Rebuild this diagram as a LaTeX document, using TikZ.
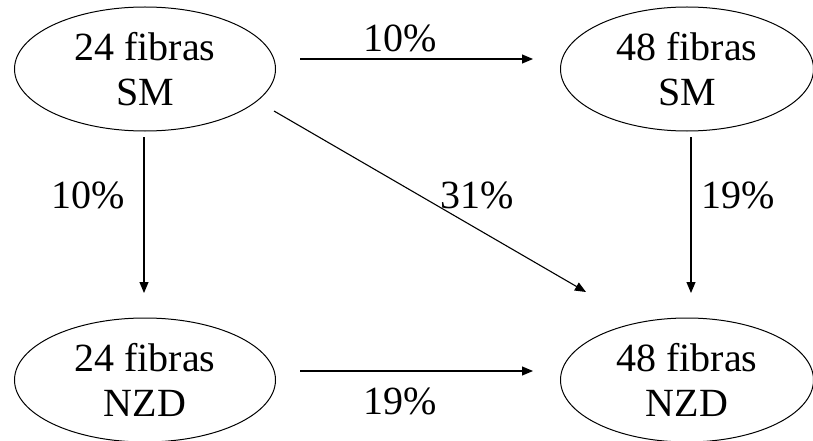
\documentclass[tikz,border=0pt]{standalone}
\usepackage{fontspec}
\setmainfont{Liberation Serif}
\usetikzlibrary{shapes.geometric,arrows.meta,calc}
\begin{document}
\begin{tikzpicture}[x=1pt,y=-1pt,
  oval/.style={draw,line width=1pt,ellipse,minimum width=261pt,minimum height=124pt,inner sep=0pt,align=center,font=\fontsize{40}{45}\selectfont},
  lbl/.style={font=\fontsize{40}{45}\selectfont,inner sep=0pt},
  arr/.style={line width=1.1pt,-{Triangle[length=11pt,width=9pt]}}]
\useasboundingbox (0,0) rectangle (813,441);
\clip (0,0) rectangle (813,441);
\node[oval] (a) at (145,69) {24 fibras\\SM};
\node[oval,minimum width=253pt] (b) at (687,69) {48 fibras\\SM};
\node[oval] (c) at (145,380) {24 fibras\\NZD};
\node[oval,minimum width=253pt] (d) at (687,380) {48 fibras\\NZD};
% connectors
\draw[arr] ([shift={(155,-10)}]a.center) -- ([shift={(-154,-10)}]b.center);
\draw[arr] ([shift={(155,-9)}]c.center) -- ([shift={(-154,-9)}]d.center);
\draw[arr] ([shift={(-1,68)}]a.center) -- ([shift={(-1,-87)}]c.center);
\draw[arr] ([shift={(4,68)}]b.center) -- ([shift={(4,-87)}]d.center);
\draw[arr] ([shift={(129,42)}]a.center) -- ([shift={(-101,-88)}]d.center);
% labels
\node[lbl] (l1) at (400,38) {10\%};
\node[lbl] (l2) at (400,401) {19\%};
\node[lbl] (l3) at (88,195) {10\%};
\node[lbl] (l4) at (738,195) {19\%};
\node[lbl] (l5) at (477,195) {31\%};
\end{tikzpicture}
\end{document}
